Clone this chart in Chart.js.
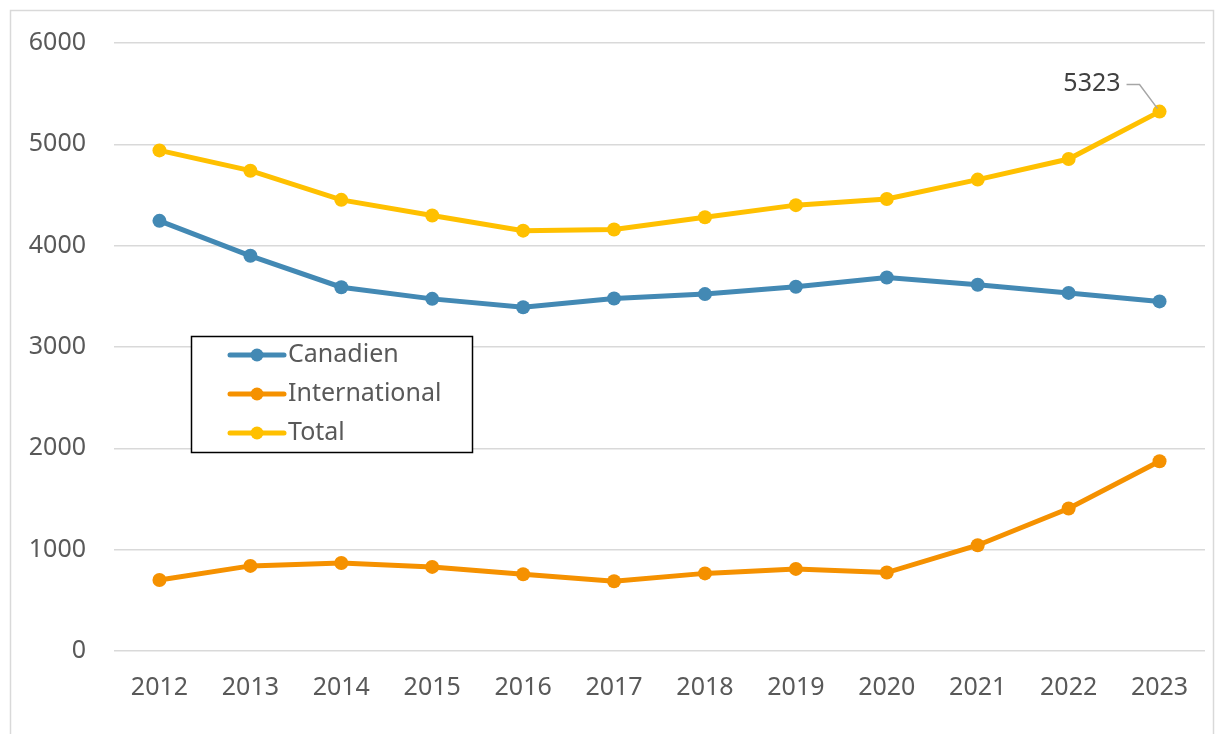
<html>
<head></head>
<body style="margin:0;background:#fff">
<script src="https://cdn.jsdelivr.net/npm/chart.js@4.4.0/dist/chart.umd.min.js"></script>
<div style="width:1220px;height:734px"><canvas id="myChart" width="1220" height="734"></canvas></div>
<script>
const years = ['2012','2013','2014','2015','2016','2017','2018','2019','2020','2021','2022','2023'];
const canadien = [4245, 3900, 3590, 3475, 3392, 3478, 3522, 3594, 3686, 3614, 3534, 3450];
const international = [700, 840, 868, 830, 758, 688, 766, 810, 774, 1044, 1406, 1873];
const total = [4940, 4740, 4452, 4298, 4148, 4160, 4280, 4400, 4460, 4652, 4855, 5323];
const seriesNames = ['Canadien', 'International', 'Total'];
const seriesColors = ['#4389B4', '#F59100', '#FFC000'];
const yTicks = [0, 1000, 2000, 3000, 4000, 5000, 6000];
const labelledIndex = 11; // only the last Total point carries a value label

const fontFam = "'Noto Sans', 'Liberation Sans', sans-serif";
const textGrey = '#595959';

function mkSet(i, data){
    return {
        label: seriesNames[i],
        data: data,
        borderColor: seriesColors[i],
        backgroundColor: seriesColors[i],
        borderWidth: 5,
        pointRadius: 7,
        pointHoverRadius: 7,
        pointBorderWidth: 0,
        tension: 0
    }
}

// light frame around the whole figure
const framePlugin = {
    id: 'frame',
    beforeDraw(chart){
        const c = chart.ctx;
        c.save();
        c.strokeStyle = '#D9D9D9';
        c.lineWidth = 1.5;
        c.strokeRect(10.5, 10.5, 1203, 760);
        c.restore();
    }
};

// data label "5323" with its leader line
const labelPlugin = {
    id: 'valueLabel',
    afterDatasetsDraw(chart){
        const c = chart.ctx;
        const pt = chart.getDatasetMeta(2).data[labelledIndex];
        const x = pt.x, y = pt.y;
        c.save();
        c.strokeStyle = '#A6A6A6';
        c.lineWidth = 1.5;
        c.beginPath();
        c.moveTo(x - 33, y - 27);
        c.lineTo(x - 20, y - 27);
        c.lineTo(x - 2, y - 3);
        c.stroke();
        c.fillStyle = '#404040';
        c.font = '25px ' + fontFam;
        c.textAlign = 'right';
        c.textBaseline = 'middle';
        c.fillText(String(total[labelledIndex]), x - 39, y - 28);
        c.restore();
    }
};

// boxed legend sitting inside the plot
const legendPlugin = {
    id: 'boxLegend',
    afterDraw(chart){
        const c = chart.ctx;
        c.save();
        c.fillStyle = '#fff';
        c.fillRect(191, 336, 282, 117);
        c.strokeStyle = '#000';
        c.lineWidth = 1.5;
        c.strokeRect(191.5, 336.5, 281, 116);
        c.font = '25px ' + fontFam;
        c.textBaseline = 'middle';
        c.textAlign = 'left';
        chart.data.datasets.forEach(function(ds, i){
            const ly = 355 + i * 39;
            c.strokeStyle = ds.borderColor;
            c.lineWidth = 5;
            c.lineCap = 'round';
            c.beginPath();
            c.moveTo(230, ly);
            c.lineTo(284, ly);
            c.stroke();
            c.fillStyle = ds.borderColor;
            c.beginPath();
            c.arc(257, ly, 6.5, 0, Math.PI * 2);
            c.fill();
            c.fillStyle = textGrey;
            c.fillText(ds.label, 288, ly);
        });
        c.restore();
    }
};

const ctx = document.getElementById('myChart').getContext('2d');
const myChart = new Chart(ctx, {
    type: 'line',
    data: {
        labels: years,
        datasets: [mkSet(0, canadien), mkSet(1, international), mkSet(2, total)]
    },
    options: {
        responsive: false,
        animation: false,
        layout: { padding: { top: 42, right: 15, left: 0, bottom: 0 } },
        plugins: { legend: { display: false }, tooltip: { enabled: false } },
        scales: {
            x: {
                offset: true,
                grid: { display: false, drawTicks: false },
                border: { display: false },
                ticks: { color: textGrey, font: { family: fontFam, size: 25 }, padding: 22, maxRotation: 0 },
                afterFit(scale){ scale.height = 83; }
            },
            y: {
                min: 0, max: 6000,
                afterBuildTicks(scale){ scale.ticks = yTicks.map(function(v){ return {value: v}; }); },
                grid: { color: '#D9D9D9', lineWidth: 1.5, drawTicks: false },
                border: { display: false },
                ticks: {
                    color: textGrey, font: { family: fontFam, size: 25 }, padding: 28,
                    callback: function(v){ return String(v); }
                },
                afterFit(scale){ scale.width = 114; }
            }
        }
    },
    plugins: [framePlugin, labelPlugin, legendPlugin]
});
</script>
</body>
</html>
